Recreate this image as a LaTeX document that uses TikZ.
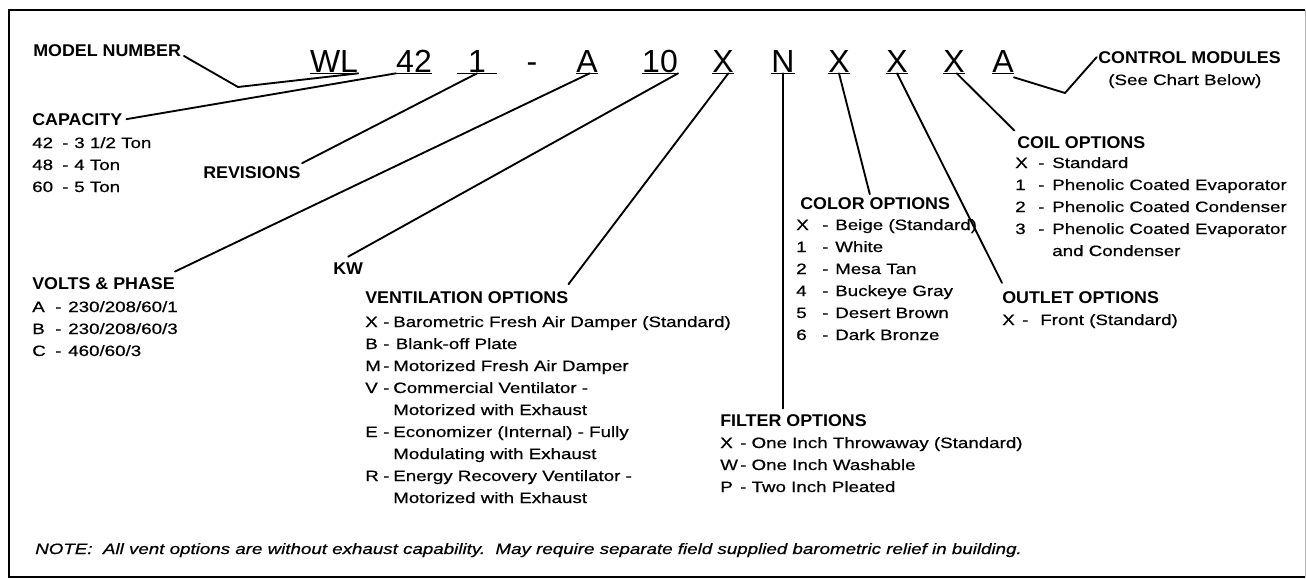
\documentclass[tikz,border=0pt]{standalone}
\usepackage{fontspec}
\setmainfont{Liberation Sans}
\newfontfamily\bodyf[FakeStretch=1.25,FakeBold=0.6]{Liberation Sans}
\newfontfamily\labf[FakeStretch=1.05]{Liberation Sans}
\usepackage{array}
\newcommand\itemtab[3]{\begin{tabular}[t]{@{}p{#1}@{}p{#2}@{}l@{}}#3\end{tabular}}
\begin{document}
\begin{tikzpicture}[x=0.75pt,y=-0.75pt,
  lab/.style={font=\labf\bfseries\fontsize{12.75}{15}\selectfont, inner sep=0pt, anchor=base west},
  body/.style={font=\bodyf\fontsize{11.25}{16.5}\selectfont, inner sep=0pt, anchor=base west},
  note/.style={font=\bodyf\itshape\fontsize{11.25}{16.5}\selectfont, inner sep=0pt, anchor=base west},
  code/.style={font=\fontsize{24}{28}\selectfont, inner sep=0pt, anchor=base},
  conn/.style={line width=1.4pt, line join=round, line cap=round},
  uline/.style={line width=1.2pt}]
\useasboundingbox (0,0) rectangle (1306,579);
% frame
\draw[line width=1.8pt] (1305,10) -- (9,10) -- (9,577) -- (1305,577);
\draw[line width=0.6pt, gray!60] (1305,10) -- (1305,577);

% code letters
\node[code] (cWL) at (334,72) {WL};
\node[code] (c42) at (414,72) {42};
\node[code, minimum width=29pt] (c1) at (477,72) {1};
\node[code] (cdash) at (532,72) {-};
\node[code] (cA) at (587,72) {A};
\node[code] (c10) at (660,72) {10};
\node[code] (cX1) at (723,72) {X};
\node[code] (cN) at (783,72) {N};
\node[code] (cX2) at (839,72) {X};
\node[code] (cX3) at (897,72) {X};
\node[code] (cX4) at (954,72) {X};
\node[code] (cA2) at (1003,72) {A};
\foreach \c in {cWL,c42,c1,cA,c10,cX1,cN,cX2,cX3,cX4,cA2}
  \draw[uline] ([yshift=-1pt]\c.base west) -- ([yshift=-1pt]\c.base east);

% labels
\node[lab] (model) at (33,56) {MODEL NUMBER};
\node[lab] (cap) at (32,125) {CAPACITY};
\node[body] (capi) at (32,148) {\itemtab{22.5pt}{9pt}{42 & - & 3 1/2 Ton\\ 48 & - & 4 Ton\\ 60 & - & 5 Ton}};
\node[lab] (rev) at (203,178) {REVISIONS};
\node[lab] (volts) at (32,289) {VOLTS \& PHASE};
\node[body] (voltsi) at (32,312) {\itemtab{17.25pt}{9.75pt}{A & - & 230/208/60/1\\ B & - & 230/208/60/3\\ C & - & 460/60/3}};
\node[lab] (kw) at (333,274) {KW};
\node[lab] (vent) at (365,303) {VENTILATION OPTIONS};
\node[body] (venti) at (365,327) {\itemtab{13.5pt}{7.5pt}{X & - & Barometric Fresh Air Damper (Standard)\\ B & - & \,Blank-off Plate\\ M & - & Motorized Fresh Air Damper\\ V & - & Commercial Ventilator -\\ & & Motorized with Exhaust\\ E & - & Economizer (Internal) - Fully\\ & & Modulating with Exhaust\\ R & - & Energy Recovery Ventilator -\\ & & Motorized with Exhaust}};
\node[lab] (filter) at (720,426) {FILTER OPTIONS};
\node[body] (filteri) at (720,448) {\itemtab{15pt}{8.5pt}{X & - & One Inch Throwaway (Standard)\\ W & - & One Inch Washable\\ P & - & Two Inch Pleated}};
\node[lab] (color) at (800,209) {COLOR OPTIONS};
\node[body] (colori) at (796,230) {\itemtab{19.5pt}{9.75pt}{X & - & Beige (Standard)\\ 1 & - & White\\ 2 & - & Mesa Tan\\ 4 & - & Buckeye Gray\\ 5 & - & Desert Brown\\ 6 & - & Dark Bronze}};
\node[lab] (coil) at (1017,148) {COIL OPTIONS};
\node[body] (coili) at (1015,168) {\itemtab{17.25pt}{10.5pt}{X & - & Standard\\ 1 & - & Phenolic Coated Evaporator\\ 2 & - & Phenolic Coated Condenser\\ 3 & - & Phenolic Coated Evaporator\\ & & and Condenser}};
\node[lab] (outlet) at (1002,303) {OUTLET OPTIONS};
\node[body] (outleti) at (1002,325) {\itemtab{15pt}{13.5pt}{X & - & Front (Standard)}};
\node[lab] (control) at (1098,63) {CONTROL MODULES};
\node[body] (see) at (1108,85) {(See Chart Below)};
\node[note] (notetxt) at (35,554) {NOTE:\ \ All vent options are without exhaust capability.\ \ May require separate field supplied barometric relief in building.};

% connectors
\coordinate (mbend) at (238,87);
\coordinate (cbend) at (1065,93);
\draw[conn] ([xshift=2pt]model.base east) -- (mbend) -- ([yshift=-1pt]cWL.base east);
\draw[conn] ([xshift=3pt]cap.east) -- ([yshift=-1pt]c42.base west);
\draw[conn] ([xshift=1pt,yshift=2pt]rev.north east) -- ([yshift=-1pt]c1.base);
\draw[conn] ([yshift=4pt]volts.north east) -- ([xshift=2pt,yshift=-1pt]cA.base);
\draw[conn] ([yshift=4pt]kw.north) -- ([yshift=-1pt]c10.base east);
\draw[conn] ([yshift=5pt]vent.north east) -- ([yshift=-1pt,xshift=4pt]cX1.base);
\draw[conn] ([yshift=-1pt]cN.base) -- ([yshift=4pt]cN.base |- filter.north);
\draw[conn] ([yshift=-1pt]cX2.base) -- ([yshift=2pt,xshift=-4pt]color.north);
\draw[conn] ([yshift=-1pt]cX3.base) -- ([yshift=6pt]outlet.north west);
\draw[conn] ([yshift=-1pt,xshift=2pt]cX4.base) -- ([yshift=4pt,xshift=-2pt]coil.north west);
\draw[conn] ([yshift=-4pt]cA2.base east) -- (cbend) -- ([xshift=-1pt]control.west);
\end{tikzpicture}
\end{document}
